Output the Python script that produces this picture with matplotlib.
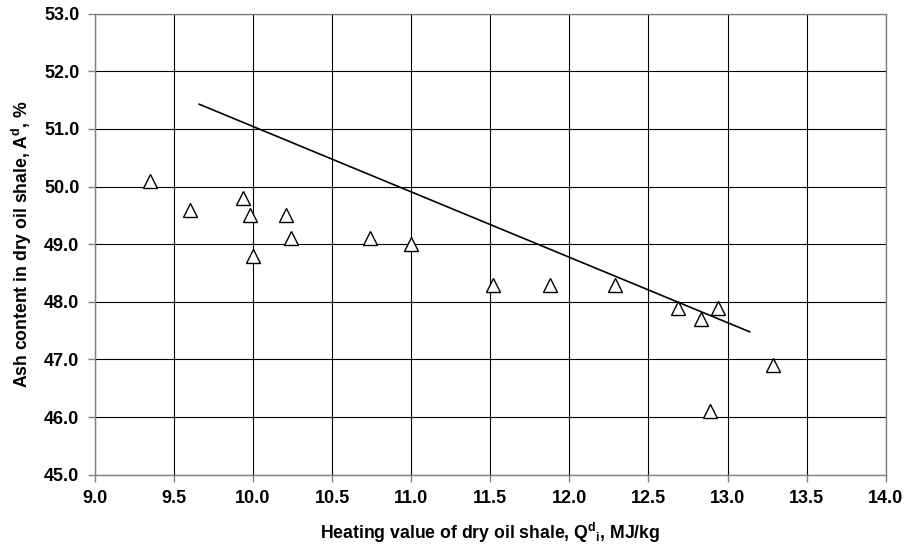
import matplotlib.pyplot as plt

plt.rcParams['font.family'] = ['Liberation Sans', 'DejaVu Sans']
plt.rcParams['mathtext.fontset'] = 'custom'
plt.rcParams['mathtext.bf'] = 'Liberation Sans:bold'
plt.rcParams['mathtext.rm'] = 'Liberation Sans:bold'

# measured samples: heating value (MJ/kg) vs ash content (%)
heating = [9.35, 9.60, 9.94, 9.98, 10.00, 10.21, 10.24, 10.74, 11.00,
           11.52, 11.88, 12.29, 12.69, 12.83, 12.94, 13.29, 12.89]
ash = [50.1, 49.6, 49.8, 49.5, 48.8, 49.5, 49.1, 49.1, 49.0,
       48.3, 48.3, 48.3, 47.9, 47.7, 47.9, 46.9, 46.1]

# trend line end points
trend_x = [9.66, 13.14]
trend_y = [51.43, 47.48]

x_ticks = [9.0, 9.5, 10.0, 10.5, 11.0, 11.5, 12.0, 12.5, 13.0, 13.5, 14.0]
y_ticks = [45.0, 46.0, 47.0, 48.0, 49.0, 50.0, 51.0, 52.0, 53.0]

fig = plt.figure(figsize=(9.09, 5.49), dpi=100)
ax = fig.add_axes([0.1042, 0.1353, 0.8702, 0.8397])

ax.plot(trend_x, trend_y, color='black', lw=1.2, zorder=3)
ax.plot(heating, ash, linestyle='none', marker='^', markersize=9.5,
        markerfacecolor='white', markeredgecolor='black', markeredgewidth=1.0,
        zorder=4)

ax.set_xlim(9.0, 14.0)
ax.set_ylim(45.0, 53.0)
ax.set_xticks(x_ticks)
ax.set_yticks(y_ticks)
ax.set_xticklabels([f'{v:.1f}' for v in x_ticks], fontweight='bold', fontsize=13)
ax.set_yticklabels([f'{v:.1f}' for v in y_ticks], fontweight='bold', fontsize=13)
ax.tick_params(direction='out', length=5, width=1, color='#808080', pad=6)

ax.grid(True, color='black', lw=0.8)
ax.set_axisbelow(True)
for s in ax.spines.values():
    s.set_color('#808080')
    s.set_linewidth(1.0)

ax.set_xlabel(r'Heating value of dry oil shale, Q$^{\mathbf{d}}$$_{\mathbf{i}}$, MJ/kg',
              fontweight='bold', fontsize=12.7, labelpad=10)
ax.set_ylabel(r'Ash content in dry oil shale, A$^{\mathbf{d}}$, %',
              fontweight='bold', fontsize=12.7, labelpad=7)

fig.savefig('out.png', dpi=100)
